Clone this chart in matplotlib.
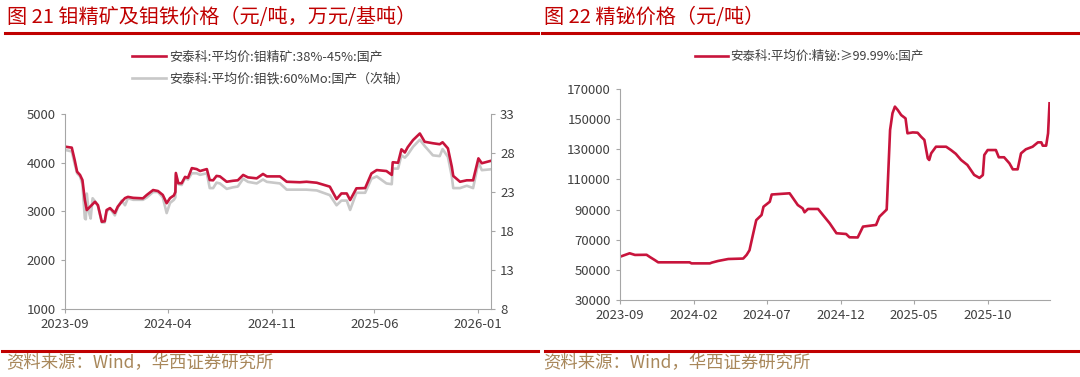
import matplotlib
matplotlib.use("Agg")
import matplotlib.pyplot as plt
import matplotlib.dates as mdates
import pandas as pd
from matplotlib.lines import Line2D

plt.rcParams['font.family'] = ['Noto Sans CJK SC', 'DejaVu Sans']

# 钼精矿 (元/吨), left axis
mo_dates = ['2023-09-01', '2023-09-15', '2023-09-21', '2023-09-26', '2023-10-02', '2023-10-07',
            '2023-10-12', '2023-10-16', '2023-11-02', '2023-11-08', '2023-11-16', '2023-11-22',
            '2023-11-26', '2023-12-03', '2023-12-13', '2023-12-19', '2023-12-27', '2024-01-03',
            '2024-01-09', '2024-01-20', '2024-02-09', '2024-02-17', '2024-03-01', '2024-03-11',
            '2024-03-21', '2024-03-29', '2024-04-05', '2024-04-13', '2024-04-16', '2024-04-17',
            '2024-04-22', '2024-04-29', '2024-05-06', '2024-05-12', '2024-05-20', '2024-05-30',
            '2024-06-06', '2024-06-20', '2024-06-26', '2024-07-03', '2024-07-10', '2024-07-17',
            '2024-07-31', '2024-08-13', '2024-08-23', '2024-09-03', '2024-09-13', '2024-10-01',
            '2024-10-14', '2024-10-22', '2024-11-18', '2024-12-02', '2024-12-29', '2025-01-12',
            '2025-02-02', '2025-03-01', '2025-03-15', '2025-03-25', '2025-04-05', '2025-04-12',
            '2025-04-25', '2025-05-13', '2025-05-26', '2025-06-06', '2025-06-26', '2025-07-07',
            '2025-07-09', '2025-07-20', '2025-07-27', '2025-08-03', '2025-08-09', '2025-08-20',
            '2025-09-03', '2025-09-13', '2025-09-30', '2025-10-14', '2025-10-20', '2025-10-31',
            '2025-11-08', '2025-11-11', '2025-11-25', '2025-12-09', '2025-12-22', '2026-01-02',
            '2026-01-09', '2026-01-26']
mo_conc = [4330, 4310, 4055, 3816, 3750, 3645,
           3235, 3030, 3200, 3130, 2790, 2800,
           3030, 3070, 2970, 3100, 3200, 3275,
           3300, 3280, 3270, 3340, 3440, 3420,
           3340, 3170, 3275, 3330, 3400, 3790,
           3580, 3580, 3710, 3690, 3890, 3870,
           3830, 3870, 3645, 3640, 3730, 3720,
           3610, 3630, 3640, 3750, 3700, 3680,
           3770, 3720, 3720, 3610, 3600, 3610,
           3590, 3510, 3255, 3370, 3370, 3235,
           3475, 3480, 3780, 3850, 3830, 3750,
           4010, 4000, 4275, 4210, 4320, 4466,
           4600, 4430, 4400, 4380, 4420, 4295,
           3920, 3730, 3610, 3640, 3640, 4090,
           3990, 4035]

# 钼铁 (万元/基吨), right axis
fe_dates = ['2023-09-01', '2023-09-15', '2023-09-21', '2023-09-26', '2023-10-02', '2023-10-07',
            '2023-10-12', '2023-10-14', '2023-10-16', '2023-10-20', '2023-10-24', '2023-10-28',
            '2023-11-02', '2023-11-08', '2023-11-16', '2023-11-22', '2023-11-26', '2023-12-03',
            '2023-12-13', '2023-12-19', '2023-12-27', '2024-01-03', '2024-01-09', '2024-01-20',
            '2024-02-09', '2024-02-17', '2024-03-01', '2024-03-11', '2024-03-21', '2024-03-29',
            '2024-04-05', '2024-04-13', '2024-04-16', '2024-04-17', '2024-04-22', '2024-04-29',
            '2024-05-06', '2024-05-12', '2024-05-20', '2024-05-30', '2024-06-06', '2024-06-20',
            '2024-06-26', '2024-07-03', '2024-07-10', '2024-07-17', '2024-07-31', '2024-08-13',
            '2024-08-23', '2024-09-03', '2024-09-13', '2024-10-01', '2024-10-14', '2024-10-22',
            '2024-11-18', '2024-12-02', '2024-12-29', '2025-01-12', '2025-02-02', '2025-03-01',
            '2025-03-15', '2025-03-25', '2025-04-05', '2025-04-12', '2025-04-25', '2025-05-13',
            '2025-05-26', '2025-06-06', '2025-06-26', '2025-07-07', '2025-07-09', '2025-07-20',
            '2025-07-27', '2025-08-03', '2025-08-09', '2025-08-20', '2025-09-03', '2025-09-13',
            '2025-09-30', '2025-10-14', '2025-10-20', '2025-10-31', '2025-11-08', '2025-11-11',
            '2025-11-25', '2025-12-09', '2025-12-22', '2026-01-02', '2026-01-09', '2026-01-26']
mo_fe = [28.4, 28.2, 26.6, 25.4, 25.0, 24.0,
         19.6, 19.5, 22.8, 20.5, 19.6, 22.2,
         21.8, 21.2, 19.1, 19.1, 20.5, 20.9,
         20.0, 21.0, 21.9, 21.3, 22.2, 22.0,
         22.0, 22.3, 23.0, 23.0, 22.3, 20.3,
         21.6, 22.0, 22.3, 25.2, 24.0, 23.9,
         24.8, 24.6, 25.4, 25.4, 25.2, 25.4,
         23.5, 23.5, 24.2, 24.1, 23.4, 23.6,
         23.7, 24.7, 24.3, 24.1, 24.6, 24.3,
         24.1, 23.3, 23.3, 23.3, 23.2, 22.6,
         21.3, 21.9, 21.9, 20.7, 22.9, 22.9,
         24.7, 25.0, 24.1, 24.0, 26.0, 26.0,
         27.7, 27.4, 27.8, 28.8, 29.7, 28.9,
         27.7, 27.6, 28.5, 27.5, 25.0, 23.5,
         23.5, 23.8, 23.5, 26.8, 25.8, 25.9]

# 精铋 (元/吨)
bi_dates = ['2023-09-01', '2023-09-21', '2023-10-02', '2023-10-26', '2023-11-02', '2023-11-12',
            '2023-11-19', '2024-01-23', '2024-01-27', '2024-03-05', '2024-03-09', '2024-03-22',
            '2024-04-12', '2024-05-13', '2024-05-20', '2024-05-26', '2024-06-02', '2024-06-09',
            '2024-06-20', '2024-06-24', '2024-07-07', '2024-07-11', '2024-08-17', '2024-08-21',
            '2024-09-03', '2024-09-13', '2024-09-17', '2024-09-24', '2024-10-15', '2024-10-25',
            '2024-11-08', '2024-11-22', '2024-12-12', '2024-12-19', '2025-01-05', '2025-01-16',
            '2025-02-12', '2025-02-19', '2025-03-05', '2025-03-06', '2025-03-13', '2025-03-18',
            '2025-03-23', '2025-03-29', '2025-04-05', '2025-04-14', '2025-04-18', '2025-04-29',
            '2025-05-09', '2025-05-16', '2025-05-23', '2025-05-30', '2025-06-02', '2025-06-06',
            '2025-06-16', '2025-07-07', '2025-07-17', '2025-07-27', '2025-08-07', '2025-08-20',
            '2025-09-03', '2025-09-14', '2025-09-21', '2025-09-24', '2025-10-01', '2025-10-18',
            '2025-10-24', '2025-11-04', '2025-11-15', '2025-11-22', '2025-12-02', '2025-12-09',
            '2025-12-19', '2026-01-02', '2026-01-13', '2026-01-20', '2026-01-23', '2026-01-30',
            '2026-02-03', '2026-02-06']
bi_price = [58700, 61000, 59900, 60000, 58500, 56500,
            55000, 55000, 54300, 54300, 54800, 55900,
            57200, 57500, 59900, 63000, 73100, 83000,
            86400, 91900, 95200, 100000, 100800, 99000,
            93000, 90800, 88200, 90400, 90400, 86400,
            80900, 74300, 73800, 71600, 71500, 78700,
            79800, 85300, 89700, 90000, 142800, 153900,
            158300, 156000, 152700, 150500, 140600, 141200,
            141000, 138400, 136200, 124000, 122900, 127300,
            131700, 131700, 129500, 127000, 122900, 119600,
            113000, 111000, 112900, 126200, 129500, 129500,
            124700, 124700, 120700, 116700, 116700, 127300,
            130000, 131700, 134600, 134600, 132400, 132400,
            140600, 160500]

left_ticks = ['2023-09-01', '2024-04-01', '2024-11-01', '2025-06-01', '2026-01-01']
right_ticks = ['2023-09-01', '2024-02-01', '2024-07-01', '2024-12-01', '2025-05-01', '2025-10-01']

RED = '#c8143c'
GRAY = '#c8c8c8'
SPINE = '#a6a6a6'
TXT = '#404040'
TITLE_RED = '#c00000'

fig = plt.figure(figsize=(10.8, 3.77), dpi=100)


def style_axis(ax, sides):
    for s in ['top', 'right', 'left', 'bottom']:
        ax.spines[s].set_visible(s in sides)
        ax.spines[s].set_color(SPINE)
    ax.tick_params(colors=SPINE, labelcolor=TXT, labelsize=9.5, length=3, width=0.8)


# left chart: 钼精矿 on left axis, 钼铁 on the secondary axis
ax1 = fig.add_axes([65/1080, 1-309/377, (491-65)/1080, (309-114)/377])
ax2 = ax1.twinx()
ax2.plot(pd.to_datetime(fe_dates), mo_fe, color=GRAY, lw=1.9)
ax1.set_zorder(ax2.get_zorder() + 1)
ax1.patch.set_visible(False)
ax1.plot(pd.to_datetime(mo_dates), mo_conc, color=RED, lw=1.9)
ax1.set_ylim(1000, 5000)
ax1.set_yticks([1000, 2000, 3000, 4000, 5000])
ax2.set_ylim(8, 33)
ax2.set_yticks([8, 13, 18, 23, 28, 33])
ax1.set_xlim(pd.Timestamp('2023-09-01'), pd.Timestamp('2026-01-28'))
ax1.set_xticks(pd.to_datetime(left_ticks))
ax1.xaxis.set_major_formatter(mdates.DateFormatter('%Y-%m'))
style_axis(ax1, ['left', 'bottom'])
style_axis(ax2, ['right'])

fig.legend([Line2D([], [], color=RED, lw=1.9), Line2D([], [], color=GRAY, lw=1.9)],
           ['安泰科:平均价:钼精矿:38%-45%:国产', '安泰科:平均价:钼铁:60%Mo:国产（次轴）'],
           loc='upper left', bbox_to_anchor=(126/1080, 1-44/377), frameon=False,
           fontsize=9.3, handlelength=2.6, handletextpad=0.2, labelspacing=0.7,
           labelcolor=TXT, borderpad=0)

# right chart
ax3 = fig.add_axes([620/1080, 1-300/377, (1050-620)/1080, (300-89)/377])
ax3.plot(pd.to_datetime(bi_dates), bi_price, color=RED, lw=1.9)
ax3.set_ylim(30000, 170000)
ax3.set_yticks(range(30000, 170001, 20000))
ax3.set_xlim(pd.Timestamp('2023-09-01'), pd.Timestamp('2026-02-07'))
ax3.set_xticks(pd.to_datetime(right_ticks))
ax3.xaxis.set_major_formatter(mdates.DateFormatter('%Y-%m'))
style_axis(ax3, ['left', 'bottom'])

fig.legend([Line2D([], [], color=RED, lw=1.9)], ['安泰科:平均价:精铋:≥99.99%:国产'],
           loc='upper left', bbox_to_anchor=(689/1080, 1-44/377), frameon=False,
           fontsize=9, handlelength=2.6, handletextpad=0.2, labelcolor=TXT, borderpad=0)

# titles, red rules and sources
fig.text(7/1080, 1-17/377, '图 21 钼精矿及钼铁价格（元/吨，万元/基吨）', color=TITLE_RED,
         fontsize=14.5, va='center', ha='left')
fig.text(544/1080, 1-17/377, '图 22 精铋价格（元/吨）', color=TITLE_RED,
         fontsize=14.5, va='center', ha='left')
for x0, x1 in [(5, 538), (542, 1078)]:
    fig.add_artist(Line2D([x0/1080, x1/1080], [1-33/377, 1-33/377], color=TITLE_RED, lw=2.2))
for x0, x1 in [(2, 538), (545, 1078)]:
    fig.add_artist(Line2D([x0/1080, x1/1080], [1-351/377, 1-351/377], color=TITLE_RED, lw=2.2))
fig.text(6/1080, 1-363/377, '资料来源：Wind，华西证券研究所', color='#a8875a',
         fontsize=12.5, va='center', ha='left')
fig.text(543/1080, 1-363/377, '资料来源：Wind，华西证券研究所', color='#a8875a',
         fontsize=12.5, va='center', ha='left')

fig.savefig('out.png', dpi=100)
